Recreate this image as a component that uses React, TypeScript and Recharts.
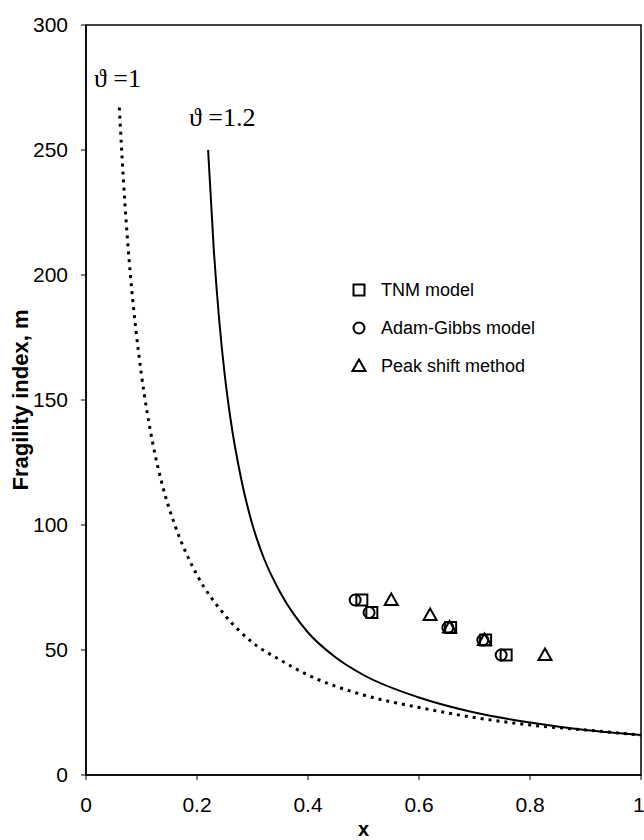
import {
  ComposedChart,
  Line,
  Scatter,
  XAxis,
  YAxis,
  ReferenceArea,
  Label,
} from 'recharts';

// curve: theta = 1 (dotted)
const THETA1_X = [0.06, 0.07, 0.08, 0.09, 0.1, 0.12, 0.14, 0.16, 0.18, 0.2, 0.25, 0.3, 0.35, 0.4, 0.5, 0.6, 0.7, 0.8, 0.9, 1.0];
const THETA1_M = [267, 229, 200, 178, 160, 133, 114, 100, 89, 80, 64, 53, 46, 40, 32, 27, 23, 20, 18, 16];

// theta = 1.2 (solid)
const THETA12_X = [0.22, 0.23, 0.24, 0.25, 0.26, 0.28, 0.3, 0.32, 0.35, 0.4, 0.45, 0.5, 0.6, 0.7, 0.8, 0.9, 1.0];
const THETA12_M = [250, 211, 182, 160, 143, 118, 100, 87, 73, 57, 47, 40, 31, 25, 21, 18, 16];

const TNM_X = [0.497, 0.515, 0.657, 0.72, 0.757];
const TNM_M = [70, 65, 59, 54, 48];
const AG_X = [0.485, 0.51, 0.652, 0.715, 0.748];
const AG_M = [70, 65, 59, 54, 48];
const PEAK_X = [0.55, 0.62, 0.655, 0.718, 0.827];
const PEAK_M = [70, 64, 59, 54, 48];

const X_TICKS = [0, 0.2, 0.4, 0.6, 0.8, 1];
const Y_TICKS = [0, 50, 100, 150, 200, 250, 300];

const LEGEND_ITEMS = ['TNM model', 'Adam-Gibbs model', 'Peak shift method'];

const zip = (xs: number[], ys: number[]) => xs.map((x, i) => ({ x, m: ys[i] }));

const theta1 = zip(THETA1_X, THETA1_M);
const theta12 = zip(THETA12_X, THETA12_M);
const tnm = zip(TNM_X, TNM_M);
const ag = zip(AG_X, AG_M);
const peak = zip(PEAK_X, PEAK_M);

const FONT = 'Arial, "Liberation Sans", Helvetica, sans-serif';
const SERIF = '"Liberation Serif", "Times New Roman", serif';

function SquareMark({ cx, cy }: any) {
  return <rect x={cx - 5.5} y={cy - 5.5} width={11} height={11} fill="none" stroke="#000" strokeWidth={2} />;
}
function CircleMark({ cx, cy }: any) {
  return <circle cx={cx} cy={cy} r={5.5} fill="none" stroke="#000" strokeWidth={2} />;
}
function TriangleMark({ cx, cy }: any) {
  return (
    <path
      d={`M${cx},${cy - 6.5} L${cx + 6.5},${cy + 5} L${cx - 6.5},${cy + 5} Z`}
      fill="none"
      stroke="#000"
      strokeWidth={2}
    />
  );
}

const MARKS = [SquareMark, CircleMark, TriangleMark];

function LegendBox() {
  return (
    <div style={{ position: 'absolute', left: 351, top: 271, fontFamily: FONT, fontSize: 18, color: '#000' }}>
      {LEGEND_ITEMS.map((name, i) => {
        const Mark = MARKS[i];
        return (
          <div key={name} style={{ display: 'flex', alignItems: 'center', height: 38 }}>
            <svg width={16} height={16} style={{ marginRight: 14 }}>
              <Mark cx={8} cy={8} />
            </svg>
            <span>{name}</span>
          </div>
        );
      })}
    </div>
  );
}

export default function App() {
  return (
    <div style={{ position: 'absolute', left: 0, top: 0, width: 644, height: 840, background: '#fff' }}>
      <ComposedChart width={644} height={840} margin={{ top: 25, right: 3, left: 0, bottom: 0 }}>
        <XAxis
          type="number"
          dataKey="x"
          domain={[0, 1]}
          ticks={X_TICKS}
          tickFormatter={(v: number) => String(v)}
          height={65}
          axisLine={{ stroke: '#000', strokeWidth: 1.5 }}
          tickLine={{ stroke: '#000' }}
          tickSize={5}
          tickMargin={17}
          tick={{ fill: '#000', fontSize: 21, fontFamily: FONT }}
        >
          <Label
            value="x"
            position="insideBottom"
            offset={4}
            style={{ fill: '#000', fontSize: 20, fontWeight: 'bold', fontFamily: FONT }}
          />
        </XAxis>
        <YAxis
          type="number"
          dataKey="m"
          domain={[0, 300]}
          ticks={Y_TICKS}
          width={86}
          axisLine={{ stroke: '#000', strokeWidth: 1.5 }}
          tickLine={{ stroke: '#000' }}
          tickSize={5}
          tickMargin={13}
          tick={{ fill: '#000', fontSize: 21, fontFamily: FONT }}
        >
          <Label
            content={() => (
              <text
                x={20}
                y={400}
                transform="rotate(-90 20 400)"
                textAnchor="middle"
                dominantBaseline="central"
                style={{ fill: '#000', fontSize: 22, fontWeight: 'bold', fontFamily: FONT }}
              >
                Fragility index, m
              </text>
            )}
          />
        </YAxis>
        <ReferenceArea x1={0} x2={1} y1={0} y2={300} fill="none" stroke="#000" strokeWidth={1.5} ifOverflow="visible" />
        <Line
          data={theta1}
          dataKey="m"
          type="monotone"
          stroke="#000"
          strokeWidth={3}
          strokeDasharray="3 5"
          dot={false}
          activeDot={false}
          isAnimationActive={false}
        />
        <Line
          data={theta12}
          dataKey="m"
          type="monotone"
          stroke="#000"
          strokeWidth={2}
          dot={false}
          activeDot={false}
          isAnimationActive={false}
        />
        <Scatter data={tnm} dataKey="m" shape={SquareMark} isAnimationActive={false} />
        <Scatter data={ag} dataKey="m" shape={CircleMark} isAnimationActive={false} />
        <Scatter data={peak} dataKey="m" shape={TriangleMark} isAnimationActive={false} />
      </ComposedChart>
      <LegendBox />
      <svg width={644} height={160} style={{ position: 'absolute', left: 0, top: 0, pointerEvents: 'none' }}>
        <text x={94} y={87} style={{ fontFamily: SERIF, fontSize: 26, fill: '#000' }}>ϑ =1</text>
        <text x={189} y={126} style={{ fontFamily: SERIF, fontSize: 26, fill: '#000' }}>ϑ =1.2</text>
      </svg>
    </div>
  );
}
